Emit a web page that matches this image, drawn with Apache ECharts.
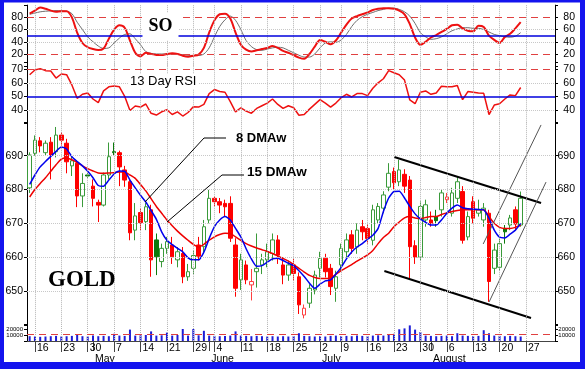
<!DOCTYPE html>
<html><head><meta charset="utf-8">
<script src="https://cdn.jsdelivr.net/npm/echarts@6/dist/echarts.min.js"></script>
<style>html,body{margin:0;padding:0;background:#fff}#c{width:585px;height:369px}</style>
</head><body><div id="c"></div>
<script>
const dates = ['04-13','04-16','04-17','04-18','04-19','04-20','04-23','04-24','04-25','04-26','04-27','04-30','05-01','05-02','05-03','05-04','05-07','05-08','05-09','05-10','05-11','05-14','05-15','05-16','05-17','05-18','05-21','05-22','05-23','05-24','05-25','05-29','05-30','05-31','06-01','06-04','06-05','06-06','06-07','06-08','06-11','06-12','06-13','06-14','06-15','06-18','06-19','06-20','06-21','06-22','06-25','06-26','06-27','06-28','06-29','07-02','07-03','07-05','07-06','07-09','07-10','07-11','07-12','07-13','07-16','07-17','07-18','07-19','07-20','07-23','07-24','07-25','07-26','07-27','07-30','07-31','08-01','08-02','08-03','08-06','08-07','08-08','08-09','08-10','08-13','08-14','08-15','08-16','08-17','08-20','08-21','08-22','08-23','08-24','08-27','08-28','08-29','08-30','08-31','09-04'];
const weekStarts = ['04-16','04-23','04-30','05-07','05-14','05-21','05-29','06-04','06-11','06-18','06-25','07-02','07-09','07-16','07-23','07-30','08-06','08-13','08-20','08-27'];
const monthStarts = {'05-01':'May','06-01':'June','07-02':'July','08-01':'August'};

const open = [680.5,690.7,694.4,690.9,694.0,691.2,696.1,693.7,687.0,687.8, 678.1,684.3,681.0,676.2,675.4,684.3,691.2,690.9,685.8,682.3, 668.0,673.2,670.5,674.0,665.1,658.7,662.6,663.6,659.2,661.1, 654.2,656.7,663.6,663.1,671.0,677.4,676.4,675.9,675.9,663.6, 653.3,657.7,651.8,655.7,657.7,659.2,661.1,665.1,657.7,654.7, 657.7,654.2,642.9,646.4,650.3,656.7,659.7,656.7,650.8,657.7, 661.6,666.6,663.0,669.0,668.5,665.0,671.0,674.5,680.7,685.3, 682.3,684.5,682.8,663.4,660.0,671.0,671.0,672.0,674.0,677.0, 673.0,677.4,679.4,666.0,676.4,673.0,671.0,673.0,656.7,657.0, 668.5,669.5,674.0,669.5];
const close = [690.2,694.6,692.9,693.7,690.2,696.1,694.6,688.2,688.5,678.1, 681.8,684.0,677.4,675.4,684.3,689.7,690.9,686.7,682.8,667.2, 672.2,670.2,674.9,659.2,660.1,662.6,664.6,660.1,661.6,654.2, 655.7,660.5,660.3,669.0,677.4,676.4,675.4,674.9,665.6,650.8, 659.2,653.3,652.8,656.7,659.2,661.6,665.1,660.6,654.7,657.7, 655.2,645.9,644.9,650.8,654.7,659.6,655.7,651.3,654.2,662.6, 665.1,662.6,668.0,667.5,665.5,674.0,675.0,678.4,684.8,682.0, 685.8,681.0,663.1,660.0,675.0,675.5,670.0,670.8,679.0,677.8, 679.0,682.3,665.0,672.0,671.5,674.0,674.5,652.8,662.1,664.0, 667.5,671.6,669.8,677.4];
const low = [679.0,690.0,691.0,690.0,683.0,689.5,693.0,684.8,684.0,674.8, 674.8,683.5,675.0,670.4,675.0,683.0,690.0,681.0,680.8,665.0, 665.0,668.0,668.0,654.2,654.7,657.0,661.0,658.0,657.0,652.3, 653.0,655.0,659.0,661.0,670.0,675.0,673.0,672.0,664.5,648.3, 650.3,652.0,647.2,651.0,655.0,657.0,659.0,658.0,652.0,653.0, 653.0,643.2,641.9,645.0,649.0,654.0,654.0,648.8,646.8,656.0, 660.0,661.0,661.0,665.0,664.0,663.5,670.0,673.0,679.5,680.0, 681.0,679.0,653.6,658.0,659.0,669.0,669.0,669.0,672.0,676.0, 672.0,676.0,664.0,665.0,670.0,672.0,669.0,646.8,655.0,656.0, 664.0,668.0,668.0,669.0];
const high = [691.0,696.0,695.5,694.5,695.5,698.5,697.0,695.0,690.0,688.5, 684.8,684.8,683.0,677.0,685.0,693.9,693.9,691.5,687.0,683.0, 676.0,674.5,676.0,675.5,667.0,664.0,666.0,666.0,663.0,663.0, 658.0,662.0,666.0,671.0,679.9,678.0,677.5,677.0,678.0,665.6, 661.0,659.0,656.5,667.0,661.0,664.0,667.0,666.5,660.0,659.0, 659.5,655.5,646.0,652.0,656.0,661.6,661.0,658.0,656.0,664.0, 667.0,668.0,670.0,671.0,670.0,675.5,676.0,679.5,687.8,686.5, 688.8,686.0,684.0,665.0,676.5,677.0,673.5,674.0,680.0,679.0, 680.5,684.0,681.0,673.5,678.0,677.0,676.0,674.0,664.0,665.5, 669.5,672.5,675.0,679.4];
const ma8 = [681.5,684.3,686.7,688.3,689.8,691.3,692.6,692.0,689.7,688.3, 687.0,685.4,683.5,681.2,681.0,682.8,684.6,685.5,685.4,682.8, 680.5,678.3,676.3,673.8,671.2,667.5,665.0,663.7,662.6,661.6, 659.8,659.2,659.2,661.5,665.5,669.0,671.0,672.0,671.0,668.5, 666.0,662.5,659.5,657.3,657.5,658.5,659.5,659.7,659.0,658.2, 657.5,656.0,654.3,652.3,650.8,652.0,653.0,653.3,655.0,657.0, 659.5,661.5,663.0,664.0,665.3,666.5,668.5,673.5,677.5,679.4, 679.5,677.5,675.0,672.8,671.3,670.3,669.5,669.5,671.0,673.0, 674.5,675.4,674.6,674.3,674.2,674.1,674.0,671.5,668.0,665.9, 665.7,666.8,668.0,670.0];
const ma15 = [677.8,680.0,681.8,683.5,685.4,687.3,689.0,689.3,688.8,688.0, 687.0,686.2,685.5,684.9,684.8,684.9,685.0,685.2,685.2,684.3, 683.3,681.5,679.6,677.3,675.0,673.0,671.0,669.3,667.7,666.3, 665.0,663.8,663.0,663.8,665.0,666.0,666.7,667.1,667.0,666.0, 665.0,664.0,663.3,662.7,662.2,661.7,661.1,660.4,659.6,658.8, 657.8,656.7,655.6,654.6,654.0,653.7,653.7,653.8,654.9,656.0, 656.9,657.8,658.8,659.7,660.7,662.0,664.0,665.8,667.1,669.0, 670.4,671.6,672.0,671.6,671.4,671.7,672.0,672.0,672.6,673.1, 673.5,673.8,674.0,674.0,674.0,674.0,674.0,672.0,670.0,668.8, 668.5,668.5,668.8,669.5];
const soK = [86,91,96,94,91,89,90,90,80,55, 38,31,28,26.5,29,45,60,67,63,42, 22,16,22,20,18.5,18.3,20,21,20,17, 15.5,17,19,30,55,75,85,86,78,55, 35,27,24,26,28,30,33,30,25,22, 18,14,12,20,32,43,40,36,42,55, 68,78,82,85,88,92,94,95,95,94, 91,85,69,47,35,40,47,51,56,61, 67,68,62,58,57,66,64,50,43,38, 48,53,62,72];
const soD = [85,87,89,90,90.5,91,90.5,90,86,72, 60,48,40,33,29,30,38,46,52,53, 45,35,24,21,20,20,20,20,19.5,19, 18,17.5,17.5,20,30,48,65,76,82,75, 60,42,32,27,26,28,30,31,30,26, 22,18,15,15,20,30,38,40,39,43, 52,65,75,81,85,88,91,93,95,95, 93,89,82,70,55,48,44,45,48,53, 58,61,63,63,62,62,60,56,52,50, 48,47.5,49,55];
const rsi = [66,69.5,70.5,69,68.7,63.5,66.5,66,58.4,48.5, 51.5,52.5,48,45.3,54,57,57.6,57,50,39.5, 42.8,42,44.3,37.4,36.1,38.5,40,36.5,38.5,35.4, 38,42.3,42,44,52,55,53.5,53,46,38.5, 41.5,39,37.5,41,43,45,48,44,41,43, 41.5,36,36.5,40.5,44,47.5,45,42,45,49, 51.5,49.5,52,52,50.5,56,60,63,69,67.5, 66,62,47.3,44.5,53,54,51.5,52.5,57.5,57, 57,58,47.5,53.5,53,52.5,52.2,36.5,43.5,44.5, 48,51,50.5,56.5];
const volume = [8000,7500,7000,7500,8000,8500,7500,8000,8500,11000, 8000,7500,9000,8000,8500,8000,12000,9000,8500,19000, 9000,9500,10000,16000,9000,9500,14000,9000,10000,20000, 9000,20000,9500,17000,9000,8500,8000,8500,9000,16000, 9000,8500,8000,8500,8000,7500,8000,7500,8000,7500, 8000,13000,8500,8000,7500,8000,7500,8500,9000,8000, 8500,8000,9000,8500,8000,9000,9500,9000,11000,12000, 19500,21000,26000,19000,15000,9000,8500,8000,8500,9000, 8000,13000,9000,8500,8000,8500,18000,13000,9000,8500, 8000,8500,8000,7500];
const volumeAvg = 11700;
// annotation lines in (day index, price) coordinates
const channelTop = [[69.06,689.6],[96.86,676.0]];
const channelBottom = [[67.18,655.9],[94.96,642.0]];
const fanUpper = [[85.9,663.9],[96.86,699.1]];
const fanLower = [[87.02,646.75],[97.8,682.2]];

const FONT = '"Liberation Sans", Arial, sans-serif';
const BLUE = '#1414ee';
const weekSet = new Set(weekStarts);
const N = dates.length;
const L = 27, W = 528;

const candleData = open.map((o, i) => {
  const c = close[i], pc = i > 0 ? close[i - 1] : o;
  const item = { value: [o, c, low[i], high[i]] };
  if (c < o && c > pc) item.itemStyle = { color0: '#0b7a0b', borderColor0: '#0b7a0b' };
  else if (c > o && c < pc) item.itemStyle = { color: '#ffffff', borderColor: '#ff4040' };
  return item;
});

const vLines = weekStarts.map(d => ({ xAxis: d, lineStyle: { type: 'dotted', color: '#b5b5b5', width: 1 } }));
const hl = (v, color, type, width) => ({ yAxis: v, lineStyle: { color, type, width } });
const mk = (data) => ({ silent: true, symbol: ['none', 'none'], label: { show: false }, animation: false, data });

function hiddenCat(gi) {
  return { type: 'category', gridIndex: gi, data: dates, boundaryGap: true,
    axisLine: { show: false }, axisTick: { show: false }, axisLabel: { show: false }, splitLine: { show: false } };
}
function yAx(gi, pos, min, max, interval, shown, fs) {
  return { type: 'value', gridIndex: gi, position: pos, min, max, interval,
    axisLine: { show: true, onZero: false, lineStyle: { color: '#000', width: 1 } },
    axisTick: { show: true, length: 3, lineStyle: { color: '#000' } },
    splitLine: { show: false },
    axisLabel: { fontSize: fs, fontFamily: FONT, color: '#000', align: 'right',
      margin: pos === 'left' ? 4 : 20,
      formatter: v => shown.includes(v) ? String(v) : '' } };
}

const option = {
  animation: false,
  backgroundColor: '#ffffff',
  textStyle: { fontFamily: FONT },
  grid: [
    { left: L, width: W, top: 5.1, height: 61.1, outerBoundsMode: 'none' },
    { left: L, width: W, top: 62.55, height: 60.75, outerBoundsMode: 'none' },
    { left: L, width: W, top: 121.9, height: 202.9, outerBoundsMode: 'none' },
    { left: L, width: W, top: 324.2, height: 16.8, outerBoundsMode: 'none' }
  ],
  xAxis: [
    hiddenCat(0), hiddenCat(1), hiddenCat(2),
    { type: 'category', gridIndex: 3, data: dates, boundaryGap: true, position: 'bottom',
      axisLine: { show: true, lineStyle: { color: '#777', width: 1 } },
      axisTick: { show: true, alignWithLabel: true, length: 11, interval: (i, v) => weekSet.has(v), lineStyle: { color: '#444' } },
      axisLabel: { show: true, interval: (i, v) => weekSet.has(v), formatter: v => String(parseInt(v.slice(3), 10)),
        align: 'left', padding: [0, 0, 0, 2], margin: 2, fontSize: 10.5, fontFamily: FONT, color: '#000' },
      splitLine: { show: false } },
    { type: 'category', gridIndex: 3, data: dates, boundaryGap: true, position: 'bottom', offset: 11,
      axisLine: { show: true, lineStyle: { color: '#444', width: 1 } },
      axisTick: { show: true, alignWithLabel: true, length: 10, interval: (i, v) => v in monthStarts, lineStyle: { color: '#444' } },
      axisLabel: { show: true, interval: (i, v) => v in monthStarts, formatter: v => monthStarts[v] || '',
        align: 'left', padding: [0, 0, 0, 2], margin: 2, fontSize: 10.5, fontFamily: FONT, color: '#000' },
      splitLine: { show: false } },
    { type: 'value', gridIndex: 2, min: -0.5, max: N - 0.5, show: false }
  ],
  yAxis: [
    yAx(0, 'left', 0, 100, 20, [20, 40, 60, 80], 10.5),
    yAx(0, 'right', 0, 100, 20, [20, 40, 60, 80], 10.5),
    yAx(1, 'left', 30, 75, 10, [40, 50, 60, 70], 10.5),
    yAx(1, 'right', 30, 75, 10, [40, 50, 60, 70], 10.5),
    yAx(2, 'left', 640, 700, 10, [650, 660, 670, 680, 690], 10.5),
    yAx(2, 'right', 640, 700, 10, [650, 660, 670, 680, 690], 10.5),
    yAx(3, 'left', 0, 28000, 10000, [10000, 20000], 6),
    yAx(3, 'right', 0, 28000, 10000, [10000, 20000], 6)
  ],
  series: [
    { type: 'line', xAxisIndex: 0, yAxisIndex: 0, data: soD, symbol: 'none', smooth: 0.3,
      lineStyle: { color: '#6e6e6e', width: 1 },
      markLine: mk(vLines.concat([hl(60, '#c8c8c8', 'dotted', 1), hl(40, '#c8c8c8', 'dotted', 1),
        hl(80, '#e04040', [7, 5], 1), hl(20, '#e04040', [7, 5], 1), hl(50, '#0000dd', 'solid', 1.5)])) },
    { type: 'line', xAxisIndex: 0, yAxisIndex: 0, data: soK, symbol: 'none', smooth: 0.3,
      lineStyle: { color: '#ee1111', width: 2 } },
    { type: 'line', xAxisIndex: 1, yAxisIndex: 2, data: rsi, symbol: 'none',
      lineStyle: { color: '#ee1111', width: 1.5 },
      markLine: mk(vLines.concat([hl(60, '#c8c8c8', 'dotted', 1), hl(40, '#c8c8c8', 'dotted', 1),
        hl(70, '#e04040', [7, 5], 1), hl(50, '#0000dd', 'solid', 1.5)])) },
    { type: 'candlestick', xAxisIndex: 2, yAxisIndex: 4, data: candleData, barWidth: 4,
      itemStyle: { color: '#ffffff', color0: '#ff0000', borderColor: '#3a9a3a', borderColor0: '#ff0000', borderWidth: 1 },
      markLine: mk(vLines.concat([650, 660, 670, 680, 690].map(v => hl(v, '#c8c8c8', 'dotted', 1)))) },
    { type: 'line', xAxisIndex: 2, yAxisIndex: 4, data: ma15, symbol: 'none', smooth: 0.2,
      lineStyle: { color: '#ee0000', width: 1.5 } },
    { type: 'line', xAxisIndex: 2, yAxisIndex: 4, data: ma8, symbol: 'none', smooth: 0.2,
      lineStyle: { color: '#0000ee', width: 1.5 } },
    { type: 'line', xAxisIndex: 5, yAxisIndex: 4, data: channelTop, symbol: 'none', lineStyle: { color: '#000', width: 2 } },
    { type: 'line', xAxisIndex: 5, yAxisIndex: 4, data: channelBottom, symbol: 'none', lineStyle: { color: '#000', width: 2 } },
    { type: 'line', xAxisIndex: 5, yAxisIndex: 4, data: fanUpper, symbol: 'none', lineStyle: { color: '#555', width: 1 } },
    { type: 'line', xAxisIndex: 5, yAxisIndex: 4, data: fanLower, symbol: 'none', lineStyle: { color: '#555', width: 1 } },
    { type: 'bar', xAxisIndex: 3, yAxisIndex: 6, data: volume, barWidth: 2,
      itemStyle: { color: '#1c1cd6' },
      markLine: mk(vLines.concat([hl(volumeAvg, '#e04040', [7, 5], 1)])) }
  ],
  graphic: [
    { type: 'text', x: 160.5, y: 26.5, z: 100, style: { text: 'SO', font: 'bold 18px "Liberation Serif", serif', fill: '#000',
      align: 'center', verticalAlign: 'middle', backgroundColor: '#fff', padding: [6, 6, 3, 6] } },
    { type: 'text', x: 128, y: 81.5, z: 100, style: { text: '13 Day RSI', font: '13px "Liberation Sans", sans-serif', fill: '#000',
      align: 'left', verticalAlign: 'middle', backgroundColor: '#fff', padding: [1, 2, 1, 2] } },
    { type: 'text', x: 236, y: 138, z: 100, style: { text: '8 DMAw', font: 'bold 13px "Liberation Sans", sans-serif', fill: '#000',
      align: 'left', verticalAlign: 'middle' } },
    { type: 'text', x: 247, y: 172, z: 100, style: { text: '15 DMAw', font: 'bold 13.5px "Liberation Sans", sans-serif', fill: '#000',
      align: 'left', verticalAlign: 'middle' } },
    { type: 'text', x: 48, y: 280.5, z: 100, style: { text: 'GOLD', font: 'bold 23px "Liberation Serif", serif', fill: '#000',
      align: 'left', verticalAlign: 'middle' } },
    { type: 'polyline', z: 100, shape: { points: [[226, 138], [204, 138], [145, 202]] }, style: { stroke: '#000', lineWidth: 1, fill: null } },
    { type: 'polyline', z: 100, shape: { points: [[244, 175], [222, 175], [167, 222]] }, style: { stroke: '#000', lineWidth: 1, fill: null } },
    { type: 'rect', z: 200, shape: { x: 0, y: 0, width: 585, height: 2.5 }, style: { fill: BLUE } },
    { type: 'rect', z: 200, shape: { x: 0, y: 0, width: 4, height: 369 }, style: { fill: BLUE } },
    { type: 'rect', z: 200, shape: { x: 580, y: 0, width: 5, height: 369 }, style: { fill: BLUE } },
    { type: 'rect', z: 200, shape: { x: 0, y: 362, width: 585, height: 7 }, style: { fill: BLUE } }
  ]
};
const chart = echarts.init(document.getElementById('c'), null, { renderer: 'canvas' });
chart.setOption(option);
</script>
</body></html>
